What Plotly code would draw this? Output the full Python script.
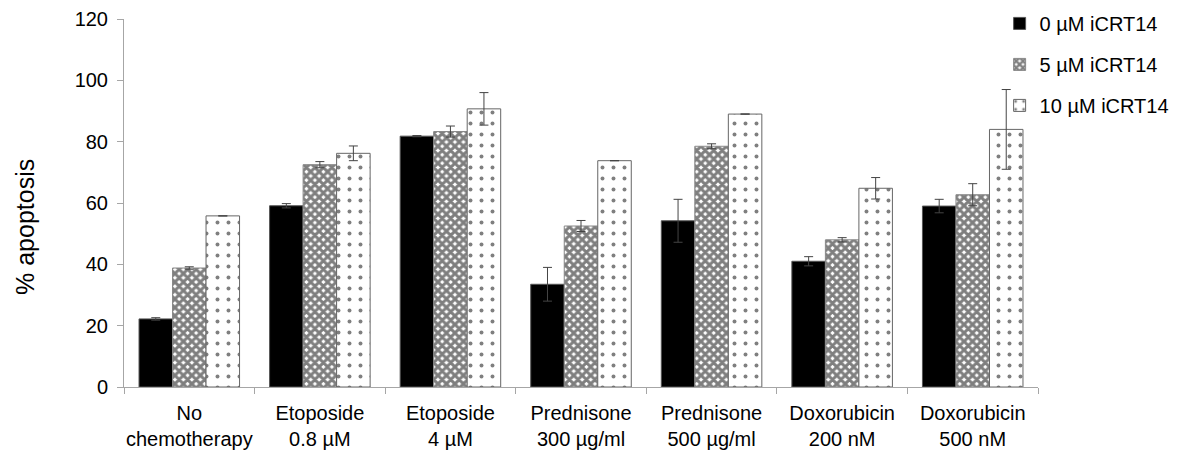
import plotly.graph_objects as go

categories = ["No<br>chemotherapy", "Etoposide<br>0.8 µM", "Etoposide<br>4 µM",
              "Prednisone<br>300 µg/ml", "Prednisone<br>500 µg/ml",
              "Doxorubicin<br>200 nM", "Doxorubicin<br>500 nM"]
series_names = ["0 µM iCRT14", "5 µM iCRT14", "10 µM iCRT14"]
vals_0 = [22.2, 59.1, 81.8, 33.5, 54.2, 41.0, 59.0]
err_0 = [0.4, 0.7, 0.2, 5.5, 7.0, 1.5, 2.2]
vals_5 = [38.8, 72.5, 83.3, 52.5, 78.5, 48.0, 62.7]
err_5 = [0.4, 1.0, 1.8, 1.8, 0.8, 0.7, 3.6]
vals_10 = [55.8, 76.2, 90.7, 73.8, 89.0, 64.8, 84.0]
err_10 = [0.0, 2.4, 5.3, 0.0, 0.0, 3.5, 13.0]
y_title = "% apoptosis"

FONT = "Liberation Sans, Arial, sans-serif"

fig = go.Figure()
styles = [
    dict(color="black", line=dict(color="#555555", width=1)),
    dict(color="white", line=dict(color="#888888", width=1),
         pattern=dict(shape="x", size=6, solidity=0.75, fgcolor="black", bgcolor="white")),
    dict(color="white", line=dict(color="#666666", width=1),
         pattern=dict(shape=".", size=11, solidity=0.1, fgcolor="black", bgcolor="white")),
]
data = [(vals_0, err_0), (vals_5, err_5), (vals_10, err_10)]
for i, (v, e) in enumerate(data):
    fig.add_trace(go.Bar(
        x=categories, y=v, name=series_names[i], marker=styles[i],
        error_y=dict(type="data", array=e, visible=True, color="#444444",
                     thickness=1, width=4.5),
        legendgroup=f"g{i}",
    ))

fig.add_annotation(text=y_title, textangle=-90, xref="paper", yref="paper",
                   x=(25 - 124) / 914, y=(387 - 227) / 368,
                   xanchor="center", yanchor="middle", showarrow=False,
                   font=dict(family=FONT, size=25, color="black"))

fig.update_layout(
    width=1186, height=452,
    margin=dict(l=124, r=148, t=19, b=65, autoexpand=False),
    plot_bgcolor="white", paper_bgcolor="white",
    barmode="group", bargap=0.23, bargroupgap=0,
    font=dict(family=FONT, color="black"),
    legend=dict(font=dict(family=FONT, size=20, color="black"),
                bgcolor="rgba(0,0,0,0)", xref="paper", yref="paper",
                xanchor="left", yanchor="top", x=0.958, y=1.041,
                tracegroupgap=12, itemclick=False),
    xaxis=dict(showline=True, linecolor="#a6a6a6", linewidth=1,
               ticks="outside", tickson="boundaries", ticklen=6, tickcolor="#a6a6a6",
               ticklabelstandoff=8, tickangle=0,
               tickfont=dict(size=20, family=FONT), showgrid=False),
    yaxis=dict(range=[0, 120], dtick=20, showline=True, linecolor="#a6a6a6", linewidth=1,
               ticks="outside", ticklen=6, tickcolor="#a6a6a6", showgrid=False, zeroline=False,
               ticklabelstandoff=5,
               tickfont=dict(size=20, family=FONT)),
)

fig.write_html("out.html")
